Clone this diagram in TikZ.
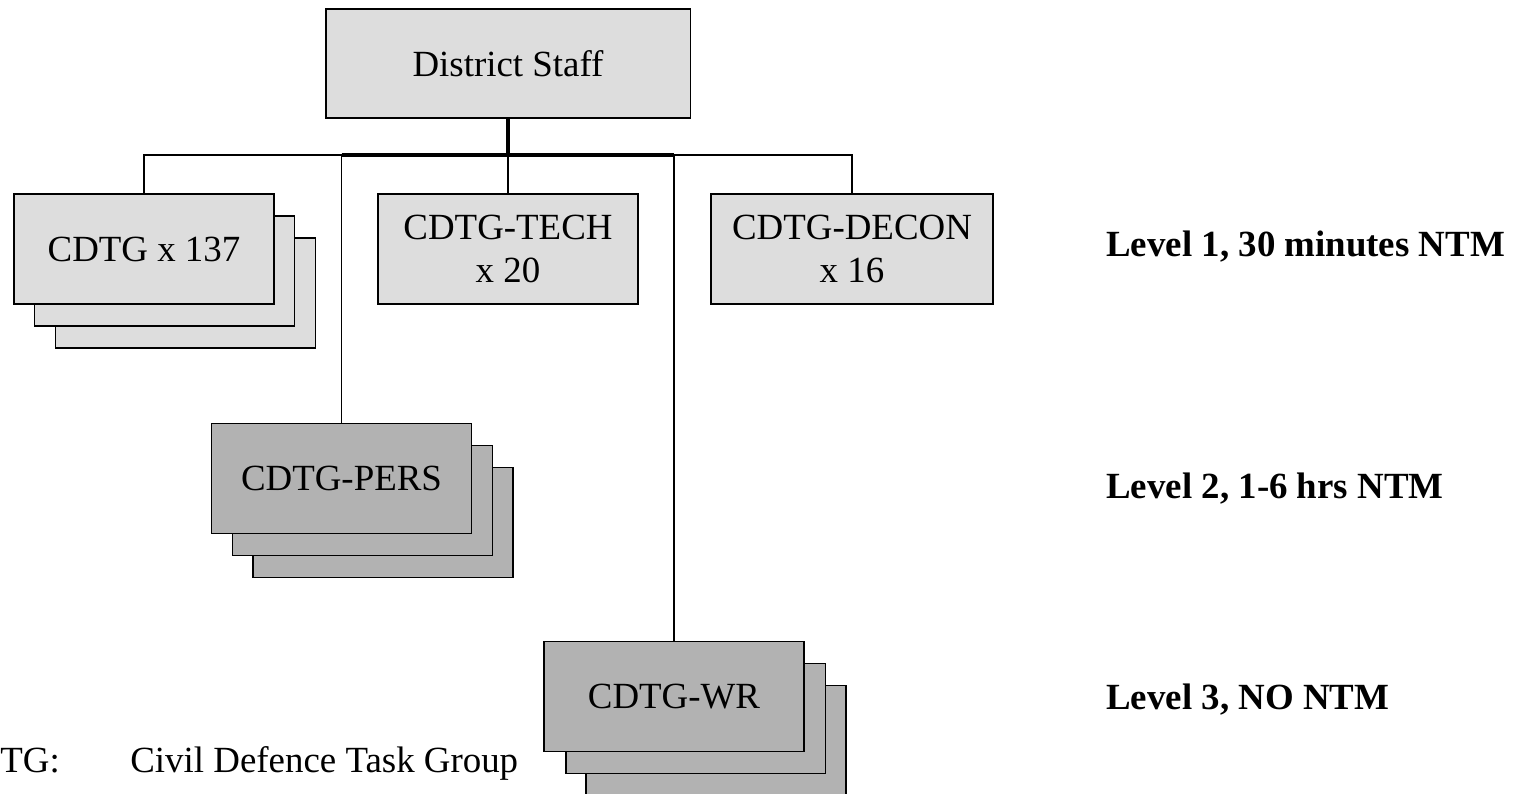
\documentclass[tikz,border=0pt]{standalone}
\usepackage{fontspec}
\setmainfont{Liberation Serif}
\definecolor{lightbox}{RGB}{221,221,221}
\definecolor{darkbox}{RGB}{178,178,178}
\begin{document}
\begin{tikzpicture}[x=0.02cm,y=-0.02cm,
    box/.style={draw, line width=1.1pt, fill=lightbox, minimum width=5.2cm, minimum height=2.2cm,
      inner sep=0pt, align=center, font=\fontsize{21}{24}\selectfont},
    darkstack/.style={box, fill=darkbox},
    link/.style={line width=1pt},
    trunk/.style={line width=1.8pt},
    level/.style={anchor=base west, inner sep=0pt, font=\fontsize{21}{24}\selectfont\bfseries},
    note/.style={anchor=base west, inner sep=0pt, font=\fontsize{21}{24}\selectfont}]
    \useasboundingbox (0,0) rectangle (1514,794);
        \node[box, minimum width=7.3cm, minimum height=2.18cm] (ds) at (508,63.5) {District Staff};
        \node[box] (cdtg3) at (185.5,293) {};
        \node[box] (cdtg2) at (164.5,271) {};
        \node[box] (cdtg) at (144,249) {CDTG x 137};
        \node[box] (tech) at (508,249) {CDTG-TECH\\x 20};
        \node[box, minimum width=5.64cm] (decon) at (852,249) {CDTG-DECON\\x 16};
        \node[darkstack] (pers3) at (383,522.5) {};
        \node[darkstack] (pers2) at (362.5,500.5) {};
        \node[darkstack] (pers) at (341.5,478.5) {CDTG-PERS};
        \node[darkstack] (wr3) at (716,740.5) {};
        \node[darkstack] (wr2) at (695.5,718.5) {};
        \node[darkstack] (wr) at (674,696.5) {CDTG-WR};
        \coordinate (bus) at (508,155);
        \draw[trunk] (ds.south) -- (bus);
        \draw[link] (cdtg.north) |- (bus) -| (decon.north);
        \draw[link] (tech.north) -- (bus);
        \draw[trunk] (pers.north |- bus) -- (wr.north |- bus);
        \draw[link] (pers.north) -- (pers.north |- bus);
        \draw[link] (wr.north) -- (wr.north |- bus);
        \node[level] (lvl1) at (1106,256) {Level 1, 30 minutes NTM};
        \node[level] (lvl2) at (1106,498) {Level 2, 1-6 hrs NTM};
        \node[level] (lvl3) at (1106,709) {Level 3, NO NTM};
        \node[note] (abbr) at (0,772) {TG:};
        \node[note] (meaning) at (130,772) {Civil Defence Task Group};
    \end{tikzpicture}
\end{document}
